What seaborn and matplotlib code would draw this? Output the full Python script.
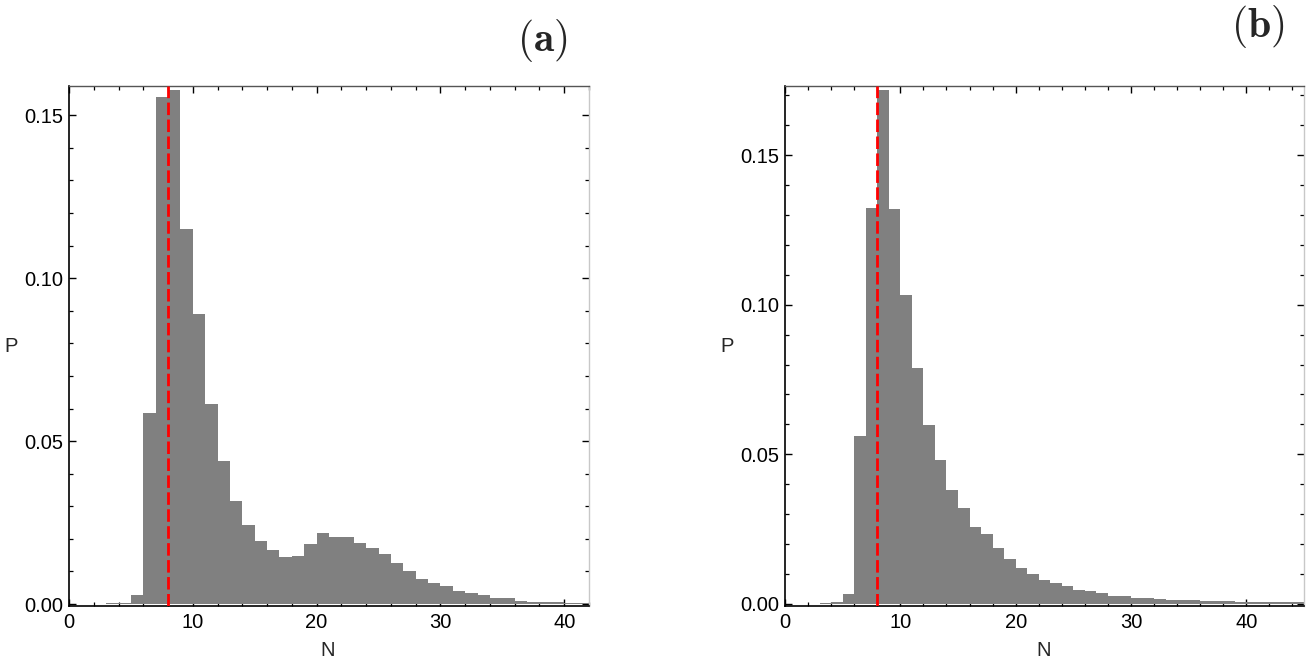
import numpy as np
import pandas as pd
import matplotlib
matplotlib.use("Agg")
import matplotlib.pyplot as plt
from matplotlib.ticker import MultipleLocator, FormatStrFormatter
import seaborn as sns

# ---- data ----
bins_a_start = 3
probs_a = [0.0004, 0.0004, 0.0027, 0.0587, 0.1557, 0.1578, 0.1151, 0.0889,
           0.0615, 0.0438, 0.0315, 0.0242, 0.0193, 0.0166, 0.0143, 0.0147,
           0.0184, 0.0218, 0.0205, 0.0207, 0.0188, 0.0173, 0.0154, 0.0126,
           0.0101, 0.0077, 0.0064, 0.0055, 0.0039, 0.0034, 0.0027, 0.0018,
           0.0018, 0.0010, 0.0005, 0.0005, 0.0005, 0.0003, 0.0003]
bins_b_start = 3
probs_b = [0.0004, 0.0008, 0.0032, 0.0562, 0.1324, 0.1719, 0.1321, 0.1032,
           0.0788, 0.0599, 0.0482, 0.0381, 0.0321, 0.0258, 0.0232, 0.0186,
           0.0151, 0.0121, 0.0100, 0.0080, 0.0070, 0.0060, 0.0047, 0.0043,
           0.0037, 0.0028, 0.0028, 0.0021, 0.0021, 0.0017, 0.0014, 0.0013,
           0.0013, 0.0011, 0.0011, 0.0010, 0.0008, 0.0007, 0.0006, 0.0006,
           0.0005, 0.0005]
ref_line = 8
xlim_a = (0, 42)
xlim_b = (0, 45)
ylim_a = (-0.0006, 0.159)
ylim_b = (-0.0007, 0.1731)
panel_labels = ["(a)", "(b)"]
x_label = "N"
y_label = "P"

sns.set_theme(style="white")
plt.rcParams["font.family"] = ["Liberation Sans", "DejaVu Sans"]
plt.rcParams["mathtext.fontset"] = "cm"

fig = plt.figure(figsize=(13.12, 6.62), dpi=100)
ax_a = fig.add_axes([0.0526, 0.0846, 0.3963, 0.7855])
ax_b = fig.add_axes([0.5983, 0.0846, 0.3956, 0.7855])


def draw(ax, start, probs, xlim, ylim):
    left = np.arange(start, start + len(probs))
    df = pd.DataFrame({"N": left + 0.5, "P": probs})
    sns.histplot(data=df, x="N", weights="P", binwidth=1,
                 binrange=(start, start + len(probs)), stat="count",
                 color="#808080", alpha=1.0, edgecolor="none", linewidth=0,
                 ax=ax)
    ax.axvline(ref_line, color="#ff0000", lw=2.0, ls=(0, (4.5, 1.6)), zorder=5)
    ax.set_xlim(*xlim)
    ax.set_ylim(*ylim)
    ax.set_xlabel("")
    ax.set_ylabel("")
    ax.xaxis.set_major_locator(MultipleLocator(10))
    ax.xaxis.set_minor_locator(MultipleLocator(2))
    ax.yaxis.set_major_locator(MultipleLocator(0.05))
    ax.yaxis.set_minor_locator(MultipleLocator(0.01))
    ax.yaxis.set_major_formatter(FormatStrFormatter("%.2f"))
    ax.tick_params(which="both", direction="in", top=True, right=True,
                   bottom=True, left=True, colors="black", labelsize=14.5,
                   labelcolor="black")
    ax.tick_params(which="major", length=5, width=1.0, pad=4)
    ax.tick_params(which="minor", length=3, width=0.9)
    ax.tick_params(axis="x", which="major", pad=5)
    for s in ["left", "bottom"]:
        ax.spines[s].set_color("black")
        ax.spines[s].set_linewidth(1.2)
    ax.spines["top"].set_color("#555555")
    ax.spines["top"].set_linewidth(1.0)
    ax.spines["right"].set_color("#c8c8c8")
    ax.spines["right"].set_linewidth(1.0)
    for s in ax.spines.values():
        s.set_visible(True)


draw(ax_a, bins_a_start, probs_a, xlim_a, ylim_a)
draw(ax_b, bins_b_start, probs_b, xlim_b, ylim_b)

# axis labels
fig.text(11 / 1312, 1 - 347 / 662, y_label, fontsize=14.5, ha="center", va="center")
fig.text(328 / 1312, 1 - 651 / 662, x_label, fontsize=14.5, ha="center", va="center")
fig.text(727 / 1312, 1 - 347 / 662, y_label, fontsize=14.5, ha="center", va="center")
fig.text(1044 / 1312, 1 - 651 / 662, x_label, fontsize=14.5, ha="center", va="center")

# panel labels
fig.text(542 / 1312, 1 - 40 / 662, r"$\mathbf{(a)}$", fontsize=30, ha="center", va="center")
fig.text(1258 / 1312, 1 - 27 / 662, r"$\mathbf{(b)}$", fontsize=30, ha="center", va="center")

fig.savefig("out.png", dpi=100)
